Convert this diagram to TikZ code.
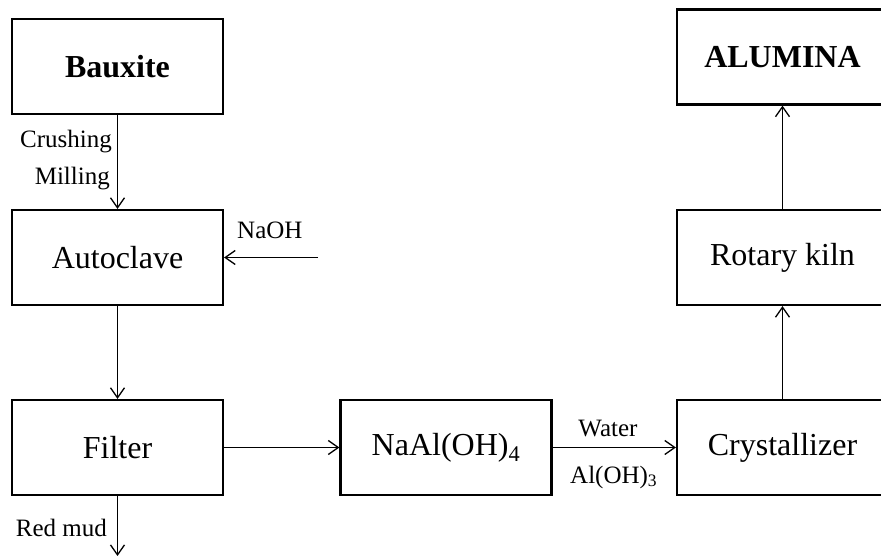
\documentclass[tikz,border=0pt]{standalone}
\usepackage{fontspec}
\setmainfont{Liberation Serif}
\usetikzlibrary{arrows.meta}
\begin{document}
\begin{tikzpicture}[x=1pt,y=-1pt,
  box/.style={draw,line width=2.2pt,minimum width=211pt,minimum height=95pt,inner sep=0pt,
    font=\fontsize{32}{38}\selectfont},
  flow/.style={line width=1.3pt,-{Straight Barb[length=10pt,width=14pt,line width=1.3pt]}},
  lbl/.style={inner sep=0pt,font=\fontsize{25}{30}\selectfont}]
\useasboundingbox[fill=white] (0,0) rectangle (881,556);
\node[box] (bauxite) at (117.5,66.5) {\textbf{Bauxite}};
\node[box] (autoclave) at (117.5,257.5) {Autoclave};
\node[box] (filter) at (117.5,447.5) {Filter};
\node[box] (naal) at (446,447.5) {NaAl(OH)\textsubscript{4}};
\node[box] (cryst) at (782.5,447.5) {Crystallizer};
\node[box] (kiln) at (782.5,257.5) {Rotary kiln};
\node[box] (alumina) at (782.5,57) {\textbf{ALUMINA}};
\coordinate (naohin) at (318,257.5);
\coordinate (mudout) at (117.5,556);
\draw[flow] (bauxite) -- (autoclave);
\draw[flow] (autoclave) -- (filter);
\draw[flow] (filter) -- (mudout);
\draw[flow] (naohin) -- (autoclave);
\draw[flow] (filter) -- (naal);
\draw[flow] (naal) -- (cryst);
\draw[flow] (cryst) -- (kiln);
\draw[flow] (kiln) -- (alumina);
\node[lbl,anchor=base east] (crush) at (112,148) {Crushing};
\node[lbl,anchor=base east] (mill) at (110,185) {Milling};
\node[lbl,anchor=base east] (mud) at (107,536) {Red mud};
\node[lbl,anchor=base west] (naoh) at (237,239) {NaOH};
\node[lbl,anchor=base] (water) at (608,436) {Water};
\node[lbl,anchor=base west] (aloh) at (570,483) {Al(OH)\textsubscript{3}};
\end{tikzpicture}
\end{document}
